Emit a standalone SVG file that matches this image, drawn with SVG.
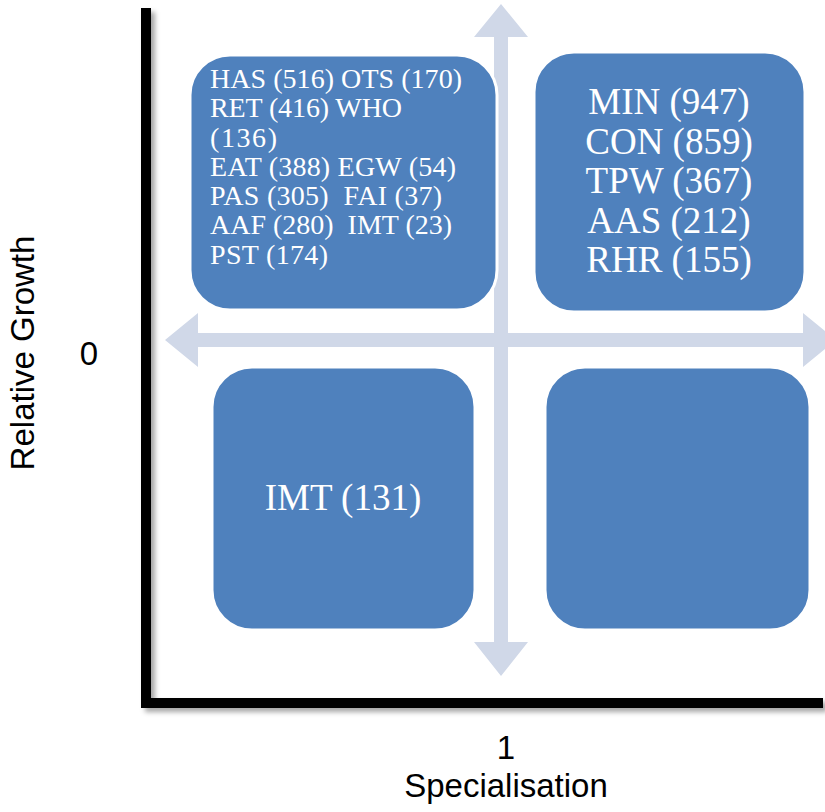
<svg xmlns="http://www.w3.org/2000/svg" width="825" height="812" viewBox="0 0 825 812">
<defs>
<filter id="sh" x="-10%" y="-10%" width="120%" height="120%"><feGaussianBlur stdDeviation="2.5"/></filter>
<style>
.arrow{fill:#D0D8E8}
.box{fill:#4F81BD;stroke:#FFFFFF;stroke-width:3}
.bt{font-family:"Liberation Serif","Times New Roman",serif;fill:#FFFFFF}
.sm{font-size:28px}
.lg{font-size:37px;text-anchor:middle}
.lab{font-family:"Liberation Sans",Arial,sans-serif;font-size:33px;fill:#000000;text-anchor:middle}
</style>
</defs>
<rect width="825" height="812" fill="#FFFFFF"/>
<g id="axes">
<path d="M150,12 L150,707 L827,707" fill="none" stroke="#000" stroke-opacity="0.35" stroke-width="10" filter="url(#sh)"/>
<path d="M146,8 L146,703 L823,703" fill="none" stroke="#000000" stroke-width="10" stroke-linejoin="miter"/>
</g>
<g id="connectors">
<polygon class="arrow" points="501,4 528,37 508,37 508,642 528,642 501,676 474,642 494,642 494,37 474,37"/>
<polygon class="arrow" points="165,340 198,313 198,333 803,333 803,313 836,340 803,367 803,347 198,347 198,367"/>
</g>
<g id="box-top-left">
<rect class="box" x="190" y="55" width="307" height="255" rx="40" ry="40"/>
<text class="bt sm" xml:space="preserve"><tspan x="210" y="88" textLength="252">HAS (516) OTS (170)</tspan><tspan x="210" y="117" textLength="192">RET (416) WHO</tspan><tspan x="210" y="146.5" textLength="67">(136)</tspan><tspan x="210" y="176" textLength="246">EAT (388) EGW (54)</tspan><tspan x="210" y="205" textLength="232">PAS (305)  FAI (37)</tspan><tspan x="210" y="234" textLength="242">AAF (280)  IMT (23)</tspan><tspan x="210" y="263.5" textLength="118">PST (174)</tspan></text>
</g>
<g id="box-top-right">
<rect class="box" x="534" y="52" width="271" height="260" rx="40" ry="40"/>
<text class="bt lg"><tspan x="669" y="114">MIN (947)</tspan><tspan x="669" y="153.5">CON (859)</tspan><tspan x="669" y="193">TPW (367)</tspan><tspan x="669" y="232.5">AAS (212)</tspan><tspan x="669" y="272">RHR (155)</tspan></text>
</g>
<g id="box-bottom-left">
<rect class="box" x="212" y="367" width="263" height="263" rx="40" ry="40"/>
<text class="bt lg" x="343" y="510">IMT (131)</text>
</g>
<g id="box-bottom-right">
<rect class="box" x="545" y="367" width="265" height="263" rx="40" ry="40"/>
</g>
<g id="labels">
<text class="lab" x="89" y="365">0</text>
<text class="lab" x="506" y="759">1</text>
<text class="lab" x="506" y="797">Specialisation</text>
<text class="lab" transform="translate(34,353) rotate(-90)" x="0" y="0">Relative Growth</text>
</g>
</svg>
